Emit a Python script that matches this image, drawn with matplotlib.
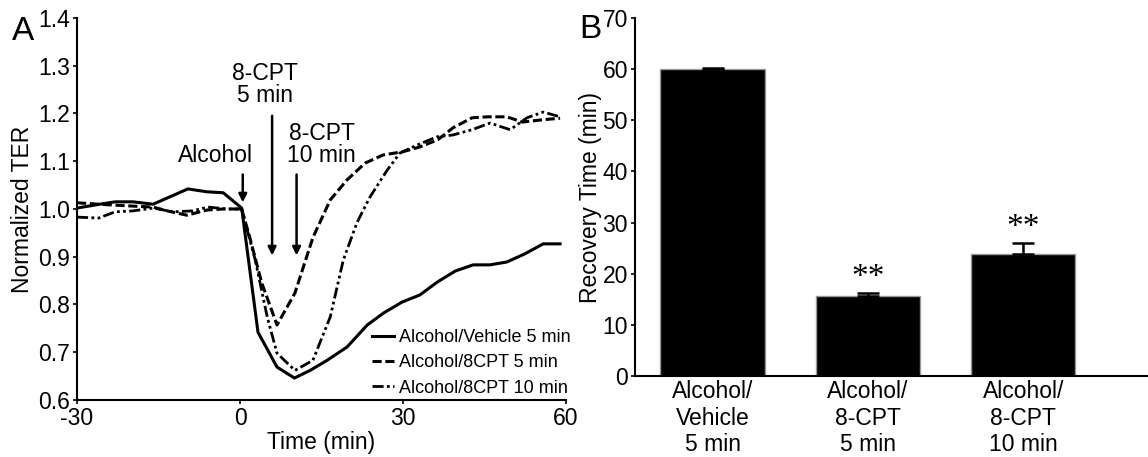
import matplotlib
matplotlib.use("Agg")
import matplotlib.pyplot as plt

plt.rcParams['font.family'] = ['Liberation Sans', 'DejaVu Sans']
plt.rcParams['axes.unicode_minus'] = False

# panel A: normalized TER over time
t_veh = [-30, -25.8, -23, -19.7, -16, -13.4, -9.6, -6.1, -3.1, 0.3, 3.3, 6.8, 10, 12.9,
         16, 19.7, 23.4, 26.4, 29.8, 33.1, 36.3, 39.6, 42.9, 46, 49.1, 52.4, 55.8, 58.9]
v_veh = [1.002, 1.010, 1.015, 1.015, 1.010, 1.023, 1.042, 1.036, 1.034, 1.002, 0.742, 0.669,
         0.646, 0.662, 0.683, 0.711, 0.757, 0.782, 0.805, 0.820, 0.847, 0.870, 0.883, 0.883,
         0.889, 0.906, 0.927, 0.927]

t_cpt5 = [-30, -26, -23, -19.7, -16, -13, -9.8, -6, -3, 0.3, 1.8, 4, 6.8, 10.1, 13.4, 16.6,
          19.7, 23, 26.3, 30, 33.1, 36.4, 39.2, 42.7, 45.6, 49.1, 52, 55.8, 58.9]
v_cpt5 = [1.013, 1.010, 1.008, 1.006, 1.004, 0.995, 0.987, 0.998, 1.000, 1.000, 0.940, 0.845,
          0.757, 0.824, 0.940, 1.019, 1.061, 1.096, 1.113, 1.120, 1.130, 1.145, 1.170, 1.191,
          1.193, 1.193, 1.182, 1.187, 1.190]

t_cpt10 = [-30, -26, -23, -19.7, -16, -12.3, -8.8, -5.9, -2.4, 0.3, 2.8, 5, 6.8, 10.1, 13.4,
           16.6, 19, 21.5, 23.9, 27, 29.4, 32.6, 36.2, 39.2, 42.7, 46, 49.7, 52.8, 55.8, 58.9]
v_cpt10 = [0.983, 0.981, 0.994, 0.996, 1.002, 0.994, 0.996, 1.004, 1.000, 1.000, 0.893, 0.774,
           0.698, 0.662, 0.683, 0.774, 0.893, 0.971, 1.025, 1.080, 1.117, 1.134, 1.151, 1.155,
           1.166, 1.180, 1.166, 1.191, 1.203, 1.193]

# panel B: recovery time
groups = ['Alcohol/\nVehicle\n5 min', 'Alcohol/\n8-CPT\n5 min', 'Alcohol/\n8-CPT\n10 min']
recovery = [60.0, 15.6, 23.9]
recovery_err = [0.2, 0.7, 2.1]
stars = ['', '**', '**']

fig = plt.figure(figsize=(11.48, 4.57), dpi=100)
axA = fig.add_axes([0.0671, 0.1247, 0.426, 0.836])
axB = fig.add_axes([0.553, 0.177, 0.4468, 0.7836])

fs = 16.5

# --- panel A
axA.plot(t_veh, v_veh, color='black', lw=2.2, label='Alcohol/Vehicle 5 min')
axA.plot(t_cpt5, v_cpt5, color='black', lw=2.2, dashes=[3, 1.2], label='Alcohol/8CPT 5 min')
axA.plot(t_cpt10, v_cpt10, color='black', lw=2.0, dashes=[4, 1.2, 1, 1.2, 1, 1.2],
         label='Alcohol/8CPT 10 min')

axA.set_xlim(-30, 60)
axA.set_ylim(0.6, 1.4)
axA.set_xticks([-30, 0, 30, 60])
axA.set_yticks([0.6, 0.7, 0.8, 0.9, 1.0, 1.1, 1.2, 1.3, 1.4])
axA.set_yticklabels(['0.6', '0.7', '0.8', '0.9', '1.0', '1.1', '1.2', '1.3', '1.4'])
axA.tick_params(labelsize=fs, length=3, width=1.2, direction='out', pad=2)
axA.set_xlabel('Time (min)', fontsize=fs, labelpad=1)
axA.set_ylabel('Normalized TER', fontsize=fs, labelpad=3)
for s in ['top', 'right']:
    axA.spines[s].set_visible(False)
for s in ['left', 'bottom']:
    axA.spines[s].set_linewidth(1.5)

arrow = dict(arrowstyle='-|>', color='black', lw=1.8, mutation_scale=12)
axA.annotate('', xy=(0.5, 1.008), xytext=(0.5, 1.078), arrowprops=arrow)
axA.annotate('', xy=(5.9, 0.897), xytext=(5.9, 1.201), arrowprops=arrow)
axA.annotate('', xy=(10.4, 0.897), xytext=(10.4, 1.078), arrowprops=arrow)
axA.text(-4.6, 1.088, 'Alcohol', fontsize=fs, ha='center', va='bottom')
axA.text(4.6, 1.213, '8-CPT\n5 min', fontsize=fs, ha='center', va='bottom', linespacing=0.95)
axA.text(15, 1.088, '8-CPT\n10 min', fontsize=fs, ha='center', va='bottom', linespacing=0.95)

axA.legend(loc='lower right', frameon=False, fontsize=13, handlelength=1.2,
           handletextpad=0.3, labelspacing=0.45, borderaxespad=0.0,
           bbox_to_anchor=(1.025, -0.01))

fig.text(0.010, 0.912, 'A', fontsize=24)

# --- panel B
xpos = list(range(len(groups)))
axB.bar(xpos, recovery, width=0.67, color='black', edgecolor='#999999', lw=1)
axB.errorbar(xpos, recovery, yerr=[[0] * len(recovery), recovery_err], fmt='none',
             ecolor='black', elinewidth=1.8, capsize=8, capthick=1.8)
for x, v, e, s in zip(xpos, recovery, recovery_err, stars):
    if s:
        axB.text(x, v + e + 3.0, s, fontsize=24, ha='center', va='center',
                 family='Liberation Serif')

axB.set_xlim(-0.5, 2.8)
axB.set_ylim(0, 70)
axB.set_yticks(range(0, 71, 10))
axB.set_xticks(xpos)
axB.set_xticklabels(groups, fontsize=fs, linespacing=1.2)
axB.tick_params(axis='y', labelsize=fs, length=3, width=1.2, pad=2)
axB.tick_params(axis='x', length=0, pad=3)
axB.set_ylabel('Recovery Time (min)', fontsize=fs, labelpad=0)
for s in ['top', 'right']:
    axB.spines[s].set_visible(False)
for s in ['left', 'bottom']:
    axB.spines[s].set_linewidth(1.5)

fig.text(0.505, 0.917, 'B', fontsize=24)

fig.savefig('out.png', dpi=100)
